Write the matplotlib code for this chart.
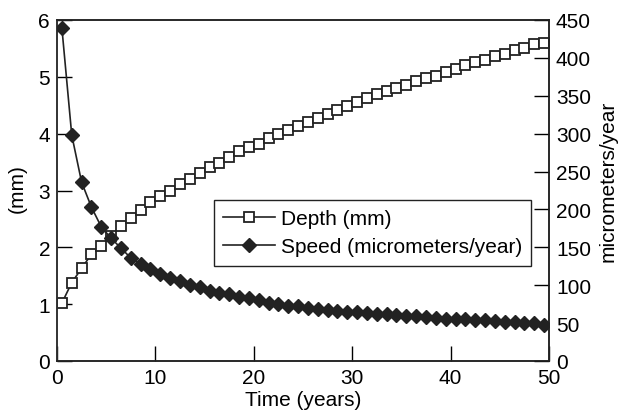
import matplotlib
matplotlib.use("Agg")
import matplotlib.pyplot as plt

plt.rcParams['font.family'] = ['Liberation Sans', 'DejaVu Sans']

# time of each sample (years)
years = [0.5, 1.5, 2.5, 3.5, 4.5, 5.5, 6.5, 7.5, 8.5, 9.5,
         10.5, 11.5, 12.5, 13.5, 14.5, 15.5, 16.5, 17.5, 18.5, 19.5,
         20.5, 21.5, 22.5, 23.5, 24.5, 25.5, 26.5, 27.5, 28.5, 29.5,
         30.5, 31.5, 32.5, 33.5, 34.5, 35.5, 36.5, 37.5, 38.5, 39.5,
         40.5, 41.5, 42.5, 43.5, 44.5, 45.5, 46.5, 47.5, 48.5, 49.5]

# depth in mm (left axis)
depth = [1.02, 1.38, 1.63, 1.88, 2.03, 2.20, 2.38, 2.51, 2.66, 2.79,
         2.91, 3.00, 3.11, 3.20, 3.31, 3.42, 3.48, 3.59, 3.70, 3.77,
         3.82, 3.93, 4.00, 4.07, 4.14, 4.21, 4.27, 4.34, 4.41, 4.48,
         4.55, 4.62, 4.69, 4.75, 4.80, 4.86, 4.93, 4.98, 5.02, 5.09,
         5.14, 5.20, 5.26, 5.30, 5.37, 5.41, 5.47, 5.50, 5.57, 5.60]

# speed in micrometers/year (right axis)
speed = [439, 298, 236, 203, 177, 162, 149, 136, 128, 121,
         115, 110, 105, 100, 97, 92, 90, 88, 84.5, 83,
         80, 77, 75.5, 73, 72, 70, 69, 67.5, 66, 65,
         64.5, 63.5, 62.5, 62, 61, 60, 59, 58, 57, 56,
         55.5, 55, 54, 53.5, 52.5, 52, 51, 50.5, 50, 48]

fig = plt.figure(figsize=(6.19, 4.14), dpi=100)
ax = fig.add_axes([57/619, 1-362/414, 492/619, 341/414])
ax2 = ax.twinx()

l1, = ax.plot(years, depth, color='#222222', lw=1.2, marker='s', ms=6.5,
              mfc='white', mec='#222222', mew=1.3, label='Depth (mm)')
l2, = ax2.plot(years, speed, color='#222222', lw=1.2, marker='D', ms=7.5,
               mfc='#222222', mec='#222222', label='Speed (micrometers/year)')

ax.set_xlim(0, 50)
ax.set_ylim(0, 6)
ax2.set_ylim(0, 450)
ax.set_xticks(range(0, 51, 10))
ax.set_yticks(range(0, 7))
ax2.set_yticks(range(0, 451, 50))

fs = 15
ax.tick_params(axis='both', direction='in', length=11, width=1, labelsize=fs,
               pad=5, top=False, right=False)
ax2.tick_params(axis='y', direction='in', length=11, width=1, labelsize=fs,
                pad=5, left=False)

for a in (ax, ax2):
    for s in a.spines.values():
        s.set_linewidth(1.1)
        s.set_color('#222222')
ax.spines['left'].set_color('#555555')

ax.set_xlabel('Time (years)', fontsize=fs, labelpad=2)
ax.set_ylabel('(mm)', fontsize=fs)
ax.yaxis.set_label_coords(-0.061, 0.51)
ax2.set_ylabel('micrometers/year', fontsize=fs)
ax2.yaxis.set_label_coords(1.1, 0.53)

leg = ax2.legend(handles=[l1, l2], loc='lower left', bbox_to_anchor=(0.319, 0.279),
                 borderaxespad=0, fontsize=fs, fancybox=False, framealpha=1,
                 edgecolor='#222222', handlelength=2.5, handletextpad=0.25,
                 borderpad=0.45, labelspacing=0.45)
leg.get_frame().set_linewidth(1.0)

plt.savefig('out.png', dpi=100)
